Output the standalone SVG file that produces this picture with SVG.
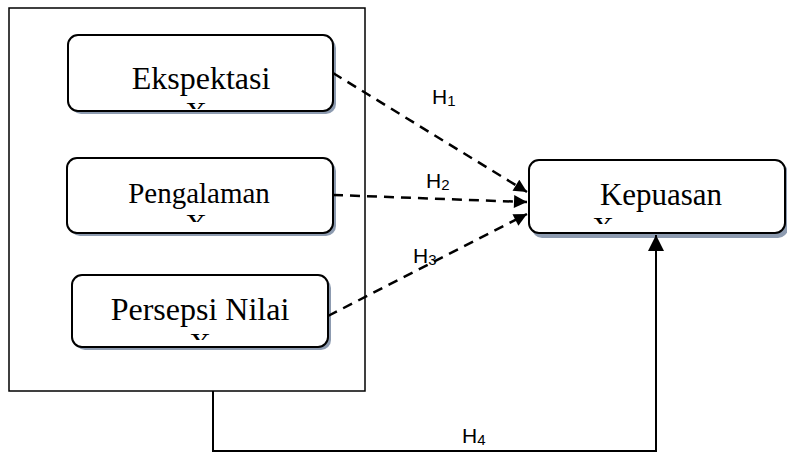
<svg xmlns="http://www.w3.org/2000/svg" width="787" height="453" viewBox="0 0 787 453">
<style>
.box{fill:#fff;stroke:#000;stroke-width:2}
.shadow{fill:#8d9bb0}
.lbl{font-family:"Liberation Serif","Times New Roman",serif;fill:#000;text-anchor:middle}
.h{font-family:"Liberation Sans",Arial,sans-serif;font-size:21px;fill:#000}
.dash{fill:none;stroke:#000;stroke-width:2.5;stroke-dasharray:10,7}
.solid{fill:none;stroke:#000;stroke-width:2}
</style>
<defs>
<marker id="ah" viewBox="0 0 10 10" refX="10" refY="5" markerWidth="14" markerHeight="13" markerUnits="userSpaceOnUse" orient="auto">
<path d="M0,0 L10,5 L0,10 z" fill="#000"/>
</marker>
<marker id="ah2" viewBox="0 0 10 10" refX="10" refY="5" markerWidth="17" markerHeight="16" markerUnits="userSpaceOnUse" orient="auto">
<path d="M0,0 L10,5 L0,10 z" fill="#000"/>
</marker>
<clipPath id="c1"><rect x="68" y="35" width="265" height="74"/></clipPath>
<clipPath id="c2"><rect x="67" y="158" width="266" height="64"/></clipPath>
<clipPath id="c3"><rect x="72" y="275" width="256" height="65"/></clipPath>
<clipPath id="c4"><rect x="529" y="160" width="256" height="64"/></clipPath>
</defs>
<g id="outer">
<rect x="9" y="8" width="356" height="383" fill="none" stroke="#000" stroke-width="1.5"/>
</g>
<g id="ekspektasi">
<rect class="shadow" x="71" y="38" width="265" height="76" rx="10"/>
<rect class="box" x="68" y="35" width="265" height="76" rx="10"/>
<text class="lbl" x="201" y="89" font-size="32">Ekspektasi</text>
<text class="lbl" x="196" y="122" font-size="30" clip-path="url(#c1)">X</text>
</g>
<g id="pengalaman">
<rect class="shadow" x="70" y="161" width="266" height="75" rx="10"/>
<rect class="box" x="67" y="158" width="266" height="75" rx="10"/>
<text class="lbl" x="199" y="203" font-size="29">Pengalaman</text>
<text class="lbl" x="196" y="234" font-size="30" clip-path="url(#c2)">X</text>
</g>
<g id="persepsi">
<rect class="shadow" x="75" y="278" width="256" height="72" rx="10"/>
<rect class="box" x="72" y="275" width="256" height="72" rx="10"/>
<text class="lbl" x="200" y="320" font-size="32">Persepsi Nilai</text>
<text class="lbl" x="200" y="353" font-size="30" clip-path="url(#c3)">X</text>
</g>
<g id="kepuasan">
<rect class="shadow" x="532" y="163" width="256" height="75" rx="10"/>
<rect class="box" x="529" y="160" width="256" height="73" rx="10"/>
<text class="lbl" x="661" y="205" font-size="31">Kepuasan</text>
<text class="lbl" x="603" y="237" font-size="30" clip-path="url(#c4)">X</text>
</g>
<g id="connectors">
<line class="dash" x1="333" y1="73" x2="527" y2="192" marker-end="url(#ah)"/>
<line class="dash" x1="333" y1="195" x2="527" y2="202" marker-end="url(#ah)"/>
<line class="dash" x1="328" y1="316" x2="527" y2="214" marker-end="url(#ah)"/>
<polyline class="solid" points="213,391 213,451 656,451 656,235" marker-end="url(#ah2)"/>
</g>
<g id="labels">
<text class="h" x="432" y="104">H<tspan font-size="15" dy="2">1</tspan></text>
<text class="h" x="426" y="188">H<tspan font-size="15" dy="2">2</tspan></text>
<text class="h" x="413" y="263">H<tspan font-size="15" dy="2">3</tspan></text>
<text class="h" x="462" y="443">H<tspan font-size="15" dy="2">4</tspan></text>
</g>
</svg>
